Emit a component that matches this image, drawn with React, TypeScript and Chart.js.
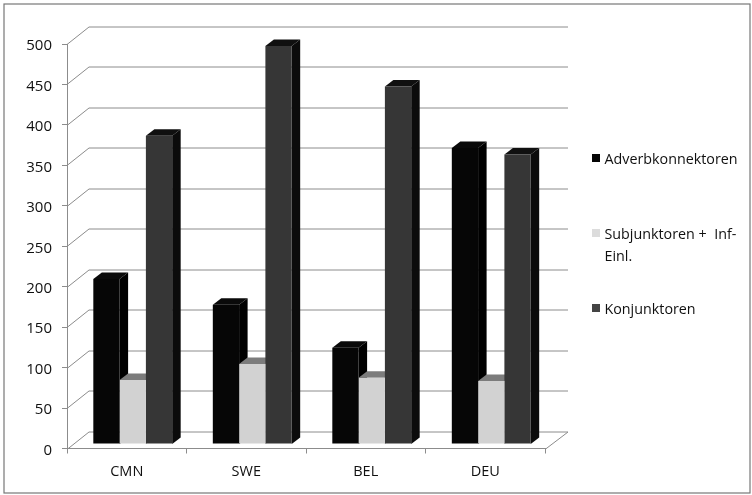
import React, { useEffect, useRef } from "react";
import { Chart, registerables } from "chart.js";

Chart.register(...registerables);

const categories = ["CMN", "SWE", "BEL", "DEU"];
const adverb = [204, 172, 119, 366];
const subjunk = [79, 99, 82, 78];
const konj = [381, 492, 442, 358];
const yTicks = [0, 50, 100, 150, 200, 250, 300, 350, 400, 450, 500];
const legendLabels = ["Adverbkonnektoren", "Subjunktoren +  Inf-Einl.", "Konjunktoren"];
const legendLines = [["Adverbkonnektoren"], ["Subjunktoren +  Inf-", "Einl."], ["Konjunktoren"]];
const faceColors = ["#060606", "#d2d2d2", "#363636"];
const sideColors = ["#000000", "#9a9a9a", "#0b0b0b"];
const topColors = ["#0a0a0a", "#7c7c7c", "#101010"];
const legendColors = ["#050505", "#dcdcdc", "#444444"];

const FONT = "'Open Sans', sans-serif";
const TEXT = "#101010";
const GRID = "#8c8c8c";
const WALL_DX = 22;
const WALL_DY = 17.5;
const WALL_RIGHT = 568;
const BAR_DX = 8.5;
const BAR_DY = 6.5;
const BAR_SHIFT_X = 6;
const BAR_SHIFT_Y = -4.5;

const frame3d = {
  id: "frame3d",
  beforeDraw(chart: any) {
    const { ctx } = chart;
    ctx.save();
    ctx.fillStyle = "#ffffff";
    ctx.fillRect(0, 0, chart.width, chart.height);
    ctx.strokeStyle = "#777777";
    ctx.lineWidth = 1.2;
    ctx.strokeRect(4, 4, 746, 489);
    ctx.restore();
  },
  beforeDatasetsDraw(chart: any) {
    const { ctx, chartArea, scales } = chart;
    ctx.save();
    ctx.strokeStyle = GRID;
    ctx.lineWidth = 1;
    const left = chartArea.left;
    const right = chartArea.right;
    yTicks.forEach((v) => {
      const y = Math.round(scales.y.getPixelForValue(v)) + 0.5;
      ctx.beginPath();
      ctx.moveTo(left, y);
      ctx.lineTo(left + WALL_DX, y - WALL_DY);
      ctx.lineTo(WALL_RIGHT, y - WALL_DY);
      ctx.stroke();
    });
    const y0 = Math.round(scales.y.getPixelForValue(0)) + 0.5;
    ctx.beginPath();
    ctx.moveTo(right, y0);
    ctx.lineTo(WALL_RIGHT, y0 - WALL_DY);
    ctx.stroke();
    ctx.restore();

    // Side and top faces of every bar, first dataset first; the front faces
    // that the library draws afterwards cover whatever lies behind them.
    ctx.save();
    ctx.translate(BAR_SHIFT_X, BAR_SHIFT_Y);
    const base = scales.y.getPixelForValue(0);
    chart.data.datasets.forEach((_: any, i: number) => {
      chart.getDatasetMeta(i).data.forEach((bar: any) => {
        const x0 = bar.x - bar.width / 2;
        const x1 = bar.x + bar.width / 2;
        const y = bar.y;
        ctx.fillStyle = sideColors[i];
        ctx.beginPath();
        ctx.moveTo(x1, y);
        ctx.lineTo(x1 + BAR_DX, y - BAR_DY);
        ctx.lineTo(x1 + BAR_DX, base - BAR_DY);
        ctx.lineTo(x1, base);
        ctx.closePath();
        ctx.fill();
        ctx.fillStyle = topColors[i];
        ctx.beginPath();
        ctx.moveTo(x0, y);
        ctx.lineTo(x0 + BAR_DX, y - BAR_DY);
        ctx.lineTo(x1 + BAR_DX, y - BAR_DY);
        ctx.lineTo(x1, y);
        ctx.closePath();
        ctx.fill();
      });
    });
    ctx.restore();
  },
  beforeDatasetDraw(chart: any) {
    chart.ctx.save();
    chart.ctx.translate(BAR_SHIFT_X, BAR_SHIFT_Y);
  },
  afterDatasetDraw(chart: any) {
    chart.ctx.restore();
  },
  afterDraw(chart: any) {
    const { ctx } = chart;
    ctx.save();
    ctx.font = "14.3px " + FONT;
    ctx.textBaseline = "middle";
    const tops = [158, 233, 308];
    legendLines.forEach((lines, i) => {
      ctx.fillStyle = legendColors[i];
      ctx.fillRect(592, tops[i] - 4, 8, 8);
      ctx.fillStyle = TEXT;
      lines.forEach((line, j) => {
        ctx.fillText(line, 604.5, tops[i] + 2 + j * 22);
      });
    });
    ctx.restore();
  },
};

export default function App() {
  const ref = useRef<HTMLCanvasElement>(null);
  useEffect(() => {
    const chart = new Chart(ref.current as HTMLCanvasElement, {
      type: "bar",
      data: {
        labels: categories,
        datasets: [adverb, subjunk, konj].map((data, i) => ({
          label: legendLabels[i],
          data,
          backgroundColor: faceColors[i],
          borderWidth: 0,
          categoryPercentage: 0.66,
          barPercentage: 1,
          clip: false as any,
        })),
      },
      options: {
        responsive: false,
        animation: false,
        layout: { padding: { top: 44, right: 207, left: 0, bottom: 0 } },
        plugins: { legend: { display: false }, tooltip: { enabled: false } },
        scales: {
          x: {
            afterFit(axis: any) {
              axis.height = 46.5;
            },
            border: { color: GRID, width: 1 },
            grid: { drawOnChartArea: false, drawTicks: true, tickLength: 5, color: GRID },
            ticks: { color: TEXT, font: { family: FONT, size: 14.5 }, padding: 10, maxRotation: 0 },
          },
          y: {
            min: 0,
            max: 500,
            afterFit(axis: any) {
              axis.width = 67;
            },
            afterBuildTicks(axis: any) {
              axis.ticks = yTicks.map((value) => ({ value }));
            },
            border: { color: GRID, width: 1 },
            grid: { drawOnChartArea: false, drawTicks: true, tickLength: 5, color: GRID },
            ticks: { color: TEXT, font: { family: FONT, size: 15 }, padding: 10, labelOffset: 2 },
          },
        },
      },
      plugins: [frame3d],
    } as any);
    return () => chart.destroy();
  }, []);
  return (
    <div style={{ position: "fixed", left: 0, top: 0, width: 752, height: 495 }}>
      <canvas ref={ref} width={752} height={495} style={{ display: "block", filter: "blur(0.5px)" }} />
    </div>
  );
}
